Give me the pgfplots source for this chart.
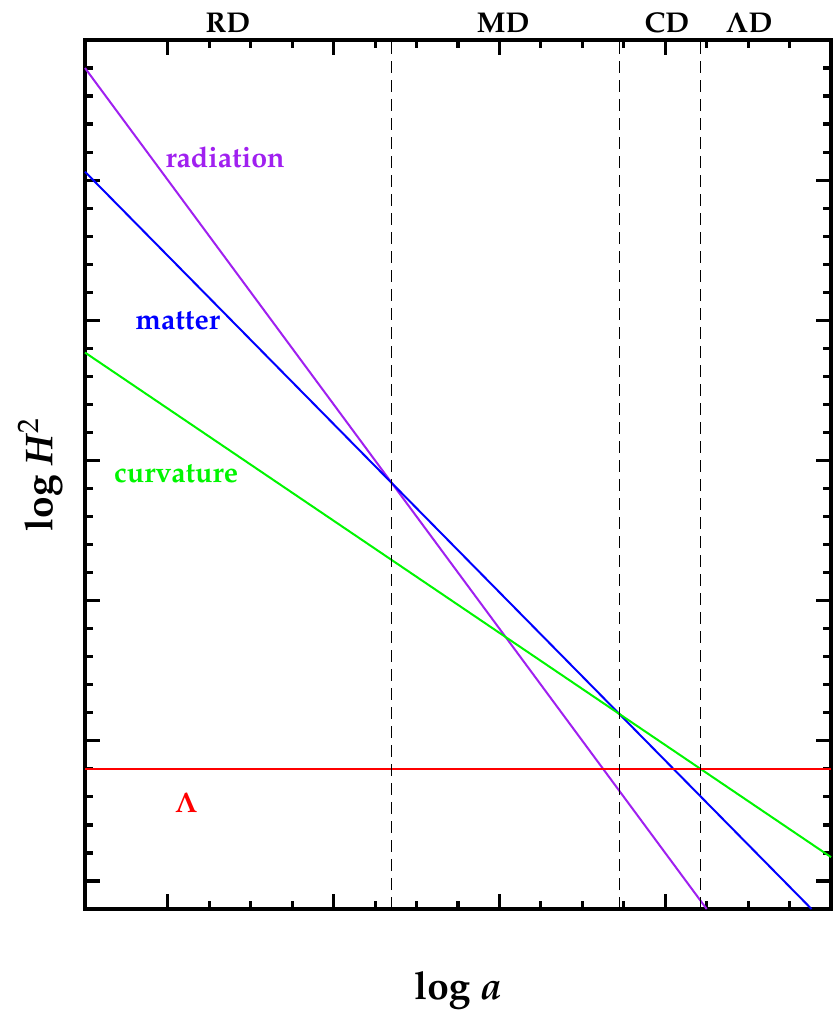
\documentclass[border=0pt]{standalone}
\usepackage[T1]{fontenc}
\usepackage{mathpazo}
\usepackage{pgfplots}
\pgfplotsset{compat=1.18}
\usetikzlibrary{calc}
\definecolor{radc}{RGB}{160,32,240}
\definecolor{matc}{RGB}{0,0,255}
\definecolor{curc}{RGB}{0,245,0}
\definecolor{lamc}{RGB}{255,0,0}
\begin{document}
\begin{tikzpicture}
\begin{axis}[
  name=ax, scale only axis, width=373pt, height=434.5pt,
  xmin=0, xmax=18, ymin=0, ymax=31,
  xtick={2,6,10,14,18}, minor x tick num=3,
  ytick={1,6,11,16,21,26,31}, minor y tick num=4,
  xticklabels={}, yticklabels={},
  major tick length=7.5pt, minor tick length=3.8pt,
  tick style={line width=1.6pt, black},
  axis line style={line width=1.9pt},
  clip=false,
  xlabel={\bfseries log \textit{a}},
  xlabel style={font=\fontsize{19.4}{21}\selectfont, at={(rel axis cs:0.5,0)}, anchor=center, yshift=-40.5pt},
  ylabel={\bfseries log \textit{H}\textsuperscript{\mdseries 2}},
  ylabel style={font=\fontsize{19.4}{21}\selectfont, at={(axis description cs:-0.0603,0.5)}, anchor=center},
]
% radiation ~ a^-4, matter ~ a^-3, curvature ~ a^-2, Lambda const
\addplot[radc, line width=1pt] coordinates {(0,30) (15,0)};
\addplot[matc, line width=1pt] coordinates {(0,26.3) (17.53,0)};
\addplot[curc, line width=1pt] coordinates {(0,19.85) (18,1.85)};
\addplot[lamc, line width=1pt] coordinates {(0,5) (18,5)};
% era boundaries
\addplot[black, line width=0.7pt, dash pattern=on 6pt off 3.5pt] coordinates {(7.4,0) (7.4,31)};
\addplot[black, line width=0.7pt, dash pattern=on 6pt off 3.5pt] coordinates {(12.9,0) (12.9,31)};
\addplot[black, line width=0.7pt, dash pattern=on 6pt off 3.5pt] coordinates {(14.85,0) (14.85,31)};
% labels
\begin{scope}[font=\fontsize{14.3}{16}\selectfont\bfseries]
\node[anchor=base] at (axis cs:3.45,31.25) {RD};
\node[anchor=base] at (axis cs:10.09,31.25) {MD};
\node[anchor=base] at (axis cs:14.04,31.25) {CD};
\node[anchor=base] at (axis cs:16.02,31.25) {{\boldmath$\Lambda$}D};
\node[radc] at (axis cs:3.38,26.83) {radiation};
\node[matc] at (axis cs:2.24,21.0) {matter};
\node[curc] at (axis cs:2.2,15.52) {curvature};
\node[lamc] at (axis cs:2.44,3.78) {{\boldmath$\Lambda$}};
\end{scope}
\end{axis}
\pgfresetboundingbox
\path ($(ax.south west)+(-42.5pt,-56pt)$) rectangle ($(ax.north east)+(2.5pt,20pt)$);
\end{tikzpicture}
\end{document}
